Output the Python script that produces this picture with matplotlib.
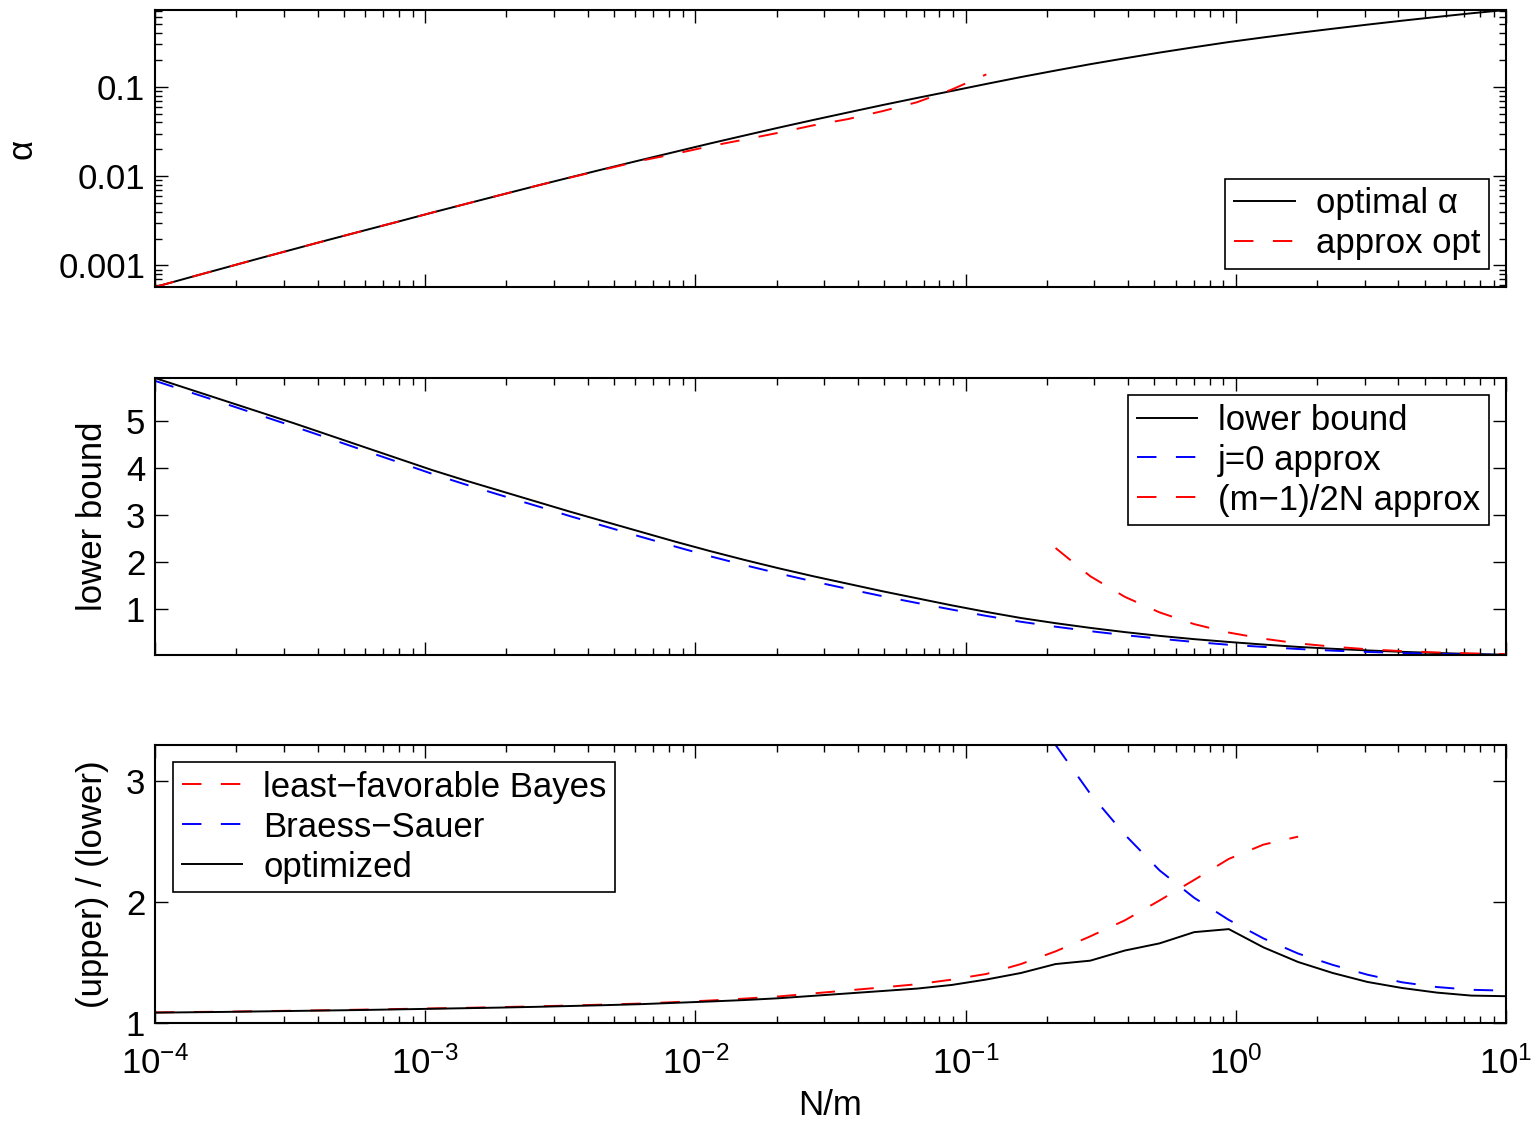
import numpy as np
import matplotlib
matplotlib.use('Agg')
import matplotlib.pyplot as plt
from matplotlib.ticker import LogLocator, FixedLocator, FixedFormatter, NullFormatter, FuncFormatter

# フォント設定 (MATLAB風)
plt.rcParams['font.family'] = ['Liberation Sans', 'DejaVu Sans']
plt.rcParams['mathtext.fontset'] = 'custom'
plt.rcParams['mathtext.rm'] = 'Liberation Sans'
plt.rcParams['mathtext.it'] = 'Liberation Sans:italic'
plt.rcParams['axes.unicode_minus'] = False

# N/m の値 (40点)
nm = [1.000e-4, 1.343e-4, 1.804e-4, 2.424e-4, 3.257e-4, 4.375e-4, 5.878e-4, 7.897e-4,
      1.061e-3, 1.425e-3, 1.915e-3, 2.572e-3, 3.456e-3, 4.642e-3, 6.236e-3, 8.377e-3,
      1.125e-2, 1.512e-2, 2.031e-2, 2.728e-2, 3.665e-2, 4.924e-2, 6.614e-2, 8.886e-2,
      0.1194, 0.1603, 0.2154, 0.2894, 0.3888, 0.5223, 0.7017, 0.9427,
      1.266, 1.701, 2.285, 3.070, 4.125, 5.541, 7.444, 10.0]

# 上段: alpha
alpha_opt = [5.741e-4, 7.345e-4, 9.376e-4, 1.197e-3, 1.521e-3, 1.932e-3, 2.443e-3, 3.083e-3,
             3.908e-3, 4.920e-3, 6.194e-3, 7.780e-3, 9.727e-3, 1.213e-2, 1.507e-2, 1.866e-2,
             2.312e-2, 2.844e-2, 3.491e-2, 4.256e-2, 5.164e-2, 6.252e-2, 7.516e-2, 8.995e-2,
             0.1079, 0.1288, 0.1524, 0.1795, 0.2089, 0.2421, 0.2780, 0.3177,
             0.3581, 0.4018, 0.4477, 0.4977, 0.5508, 0.6067, 0.6668, 0.7261]
alpha_approx = [5.741e-4, 7.345e-4, 9.376e-4, 1.197e-3, 1.521e-3, 1.932e-3, 2.443e-3, 3.083e-3,
                3.908e-3, 4.920e-3, 6.194e-3, 7.780e-3, 9.683e-3, 1.197e-2, 1.483e-2, 1.774e-2,
                2.158e-2, 2.564e-2, 3.062e-2, 3.707e-2, 4.355e-2, 5.346e-2, 6.730e-2, 9.333e-2,
                0.1380]

# 中段: lower bound
lower_bound = [5.92, 5.68, 5.44, 5.20, 4.96, 4.71, 4.46, 4.21,
               3.96, 3.73, 3.51, 3.29, 3.07, 2.86, 2.65, 2.44,
               2.24, 2.05, 1.87, 1.70, 1.54, 1.38, 1.23, 1.08,
               0.94, 0.81, 0.70, 0.60, 0.51, 0.43, 0.36, 0.30,
               0.245, 0.195, 0.155, 0.12, 0.09, 0.065, 0.045, 0.028]
lb_j0 = [5.86, 5.62, 5.38, 5.135, 4.89, 4.64, 4.385, 4.135,
         3.88, 3.645, 3.42, 3.20, 2.975, 2.76, 2.545, 2.335,
         2.13, 1.94, 1.76, 1.59, 1.43, 1.275, 1.13, 0.99,
         0.855, 0.73, 0.625, 0.53, 0.445, 0.37, 0.30, 0.24,
         0.195, 0.15, 0.115, 0.088, 0.065, 0.047, 0.032, 0.022]
lb_half = [2.30, 1.70, 1.26, 0.93, 0.68, 0.50, 0.37, 0.27,
           0.20, 0.145, 0.105, 0.077, 0.057, 0.042]

# 下段: (upper) / (lower)
ratio_lfb = [1.088, 1.091, 1.094, 1.098, 1.102, 1.106, 1.111, 1.116,
             1.121, 1.126, 1.132, 1.138, 1.145, 1.153, 1.161, 1.173,
             1.186, 1.202, 1.220, 1.245, 1.270, 1.295, 1.321, 1.359,
             1.406, 1.488, 1.593, 1.717, 1.850, 2.014, 2.184, 2.358,
             2.476, 2.542]
ratio_bs = [3.30, 2.897, 2.558, 2.263, 2.036, 1.853, 1.70, 1.575,
            1.481, 1.40, 1.337, 1.298, 1.275, 1.268]
ratio_opt = [1.086, 1.089, 1.092, 1.096, 1.100, 1.104, 1.108, 1.113,
             1.118, 1.123, 1.128, 1.134, 1.141, 1.148, 1.156, 1.167,
             1.178, 1.190, 1.205, 1.225, 1.245, 1.265, 1.285, 1.315,
             1.360, 1.414, 1.488, 1.516, 1.600, 1.659, 1.752, 1.777,
             1.626, 1.505, 1.414, 1.340, 1.290, 1.252, 1.227, 1.222]

FS = 25
LW = 1.4
DASH = (0, (10, 10))


def style_axis(ax, show_xlabels=False):
    """MATLAB風の軸スタイル"""
    ax.set_xscale('log')
    ax.set_xlim(1e-4, 10)
    ax.xaxis.set_major_locator(LogLocator(base=10, numticks=10))
    ax.xaxis.set_minor_locator(LogLocator(base=10, subs=np.arange(2, 10), numticks=10))
    ax.xaxis.set_minor_formatter(NullFormatter())
    if show_xlabels:
        ax.xaxis.set_major_formatter(FuncFormatter(lambda v, p: r'$10^{%d}$' % round(np.log10(v))))
    else:
        ax.xaxis.set_major_formatter(NullFormatter())
    ax.tick_params(which='both', direction='in', top=True, right=True, width=1.0, labelsize=FS)
    ax.tick_params(which='major', length=9.5)
    ax.tick_params(which='minor', length=5)
    ax.tick_params(axis='y', which='major', pad=7)
    ax.tick_params(axis='x', which='major', pad=17)
    for sp in ax.spines.values():
        sp.set_linewidth(1.5)


def make_legend(ax, loc, anchor):
    leg = ax.legend(loc=loc, bbox_to_anchor=anchor, borderaxespad=0, fontsize=FS,
                    handlelength=1.75, handletextpad=0.6, labelspacing=0.2,
                    borderpad=0.25, fancybox=False, framealpha=1)
    leg.get_frame().set_edgecolor('black')
    leg.get_frame().set_linewidth(1.2)
    return leg


fig = plt.figure(figsize=(15.37, 11.22), dpi=100)
left, width = 0.1008, 0.879
ax1 = fig.add_axes([left, 0.7442, width, 0.2469])
ax2 = fig.add_axes([left, 0.4162, width, 0.2469])
ax3 = fig.add_axes([left, 0.0882, width, 0.2478])

# 上段
ax1.plot(nm, alpha_opt, color='k', lw=LW, label='optimal α')
ax1.plot(nm[:len(alpha_approx)], alpha_approx, color='r', lw=LW, ls=DASH, label='approx opt')
style_axis(ax1)
ax1.set_yscale('log')
ax1.set_ylim(min(alpha_opt), max(alpha_opt))
ax1.yaxis.set_major_locator(FixedLocator([0.001, 0.01, 0.1]))
ax1.yaxis.set_major_formatter(FixedFormatter(['0.001', '0.01', '0.1']))
ax1.yaxis.set_minor_locator(LogLocator(base=10, subs=np.arange(2, 10), numticks=10))
ax1.yaxis.set_minor_formatter(NullFormatter())
ax1.set_ylabel('α', fontsize=FS, labelpad=14)
make_legend(ax1, 'lower right', (0.9874, 0.065))

# 中段
ax2.plot(nm, lower_bound, color='k', lw=LW, label='lower bound')
ax2.plot(nm, lb_j0, color='b', lw=LW, ls=DASH, label='j=0 approx')
ax2.plot(nm[-len(lb_half):], lb_half, color='r', lw=LW, ls=DASH, label='(m−1)/2N approx')
style_axis(ax2)
ax2.set_ylim(min(lb_j0), max(lower_bound))
ax2.set_yticks([1, 2, 3, 4, 5])
ax2.set_ylabel('lower bound', fontsize=FS, labelpad=12)
make_legend(ax2, 'upper right', (0.9874, 0.9386))

# 下段
ax3.plot(nm[:len(ratio_lfb)], ratio_lfb, color='r', lw=LW, ls=DASH, label='least−favorable Bayes')
ax3.plot(nm[-len(ratio_bs):], ratio_bs, color='b', lw=LW, ls=DASH, label='Braess−Sauer')
ax3.plot(nm, ratio_opt, color='k', lw=LW, label='optimized')
style_axis(ax3, show_xlabels=True)
ax3.set_ylim(1, max(ratio_bs))
ax3.set_yticks([1, 2, 3])
ax3.set_ylabel('(upper) / (lower)', fontsize=FS, labelpad=12)
ax3.set_xlabel('N/m', fontsize=FS, labelpad=6)
make_legend(ax3, 'upper left', (0.0133, 0.939))

fig.savefig('out.png', dpi=100)
